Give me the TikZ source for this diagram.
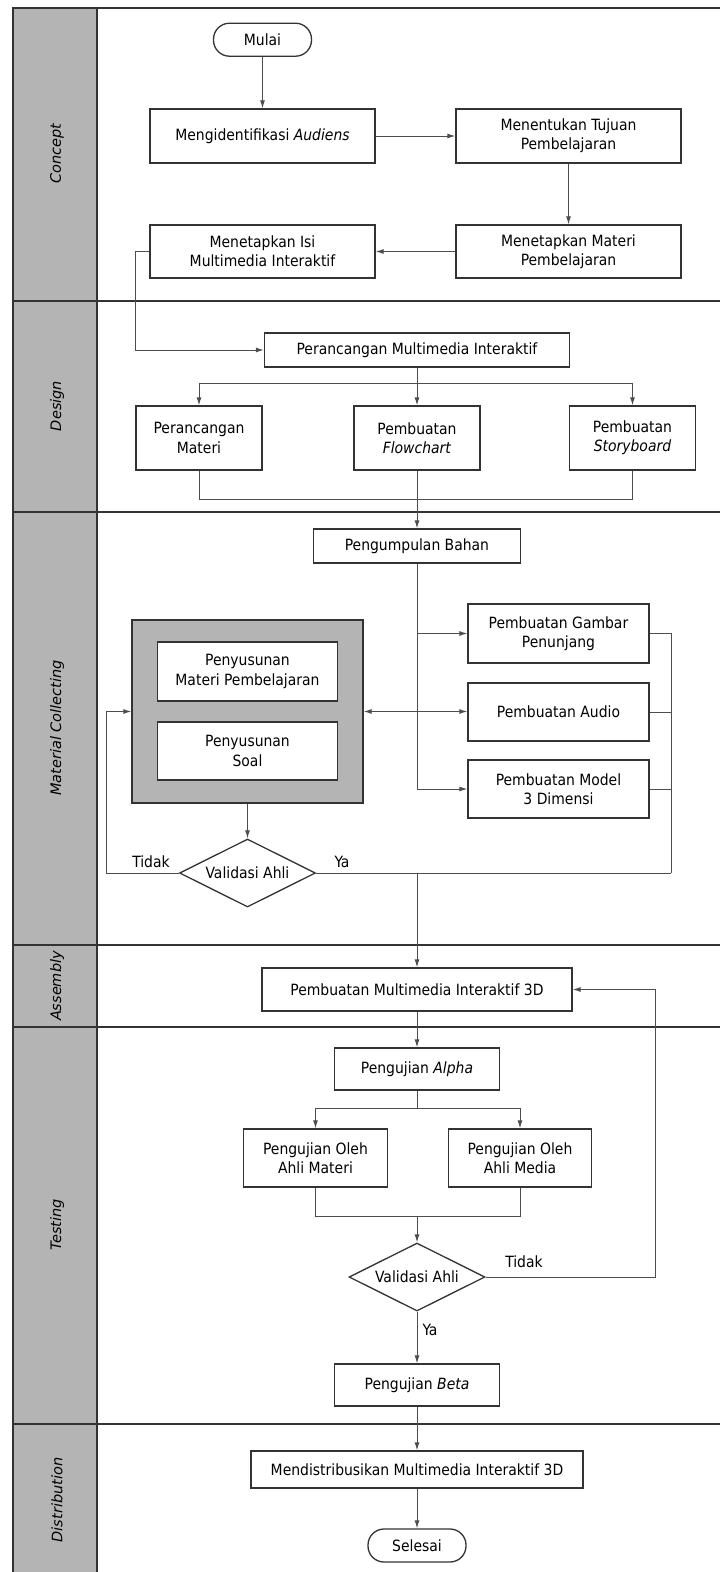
\documentclass[tikz,border=0pt]{standalone}
\usepackage{fontspec}
\setmainfont{DejaVu Sans Condensed}
\newfontfamily\lanefont{DejaVu Sans}
\usetikzlibrary{shapes.geometric,arrows.meta}
\definecolor{lanegray}{HTML}{B4B4B4}
\definecolor{edgegray}{HTML}{333333}
\definecolor{wiregray}{HTML}{4D4D4D}

\begin{document}
\begin{tikzpicture}[x=1pt,y=-1pt,
  every node/.style={font=\fontsize{15.5}{19.3}\selectfont},
  box/.style={draw=edgegray,line width=1.3pt,fill=white,align=center,inner sep=0pt},
  terminal/.style={box,rounded corners=16pt,minimum width=98,minimum height=33},
  decision/.style={box,diamond,aspect=2,minimum width=136,minimum height=68},
  lanelabel/.style={rotate=90,font=\lanefont\itshape\fontsize{14.5}{17}\selectfont},
  laneline/.style={draw=edgegray,line width=2pt},
  wire/.style={draw=wiregray,line width=1pt},
  flow/.style={wire,-{Latex[length=8pt,width=5pt]}},
  twoway/.style={wire,{Latex[length=8pt,width=5pt]}-{Latex[length=8pt,width=5pt]}}]

  \useasboundingbox (0,0) rectangle (720,1572);
  \clip (0,0) rectangle (720,1572);
  \fill[lanegray] (13,7.5) rectangle (96.7,1590);
  \draw[laneline] (13,1590) -- (13,7.5) -- (730,7.5);
  \draw[laneline] (96.7,7.5) -- (96.7,1590);
  \foreach \y in {301,511.7,945,1026.7,1424}
    \draw[laneline] (13,\y) -- (730,\y);

  \node[lanelabel] (concept) at (57,154) {Concept};
  \node[lanelabel] (design) at (57,406) {Design};
  \node[lanelabel] (collecting) at (57,728) {Material Collecting};
  \node[lanelabel] (assembly) at (57,986) {Assembly};
  \node[lanelabel] (testing) at (57,1225) {Testing};
  \node[lanelabel] (distribution) at (57,1500) {Distribution};

  \node[terminal] (mulai) at (262.5,39.7) {Mulai};
  \node[box,minimum width=225,minimum height=54] (audiens) at (262.5,136) {Mengidentifikasi \textit{Audiens}};
  \node[box,minimum width=225,minimum height=54] (tujuan) at (568.5,136) {Menentukan Tujuan\\Pembelajaran};
  \node[box,minimum width=225,minimum height=53] (materi) at (568.5,251.5) {Menetapkan Materi\\Pembelajaran};
  \node[box,minimum width=225,minimum height=53] (isi) at (262.5,251.5) {Menetapkan Isi\\Multimedia Interaktif};

  \node[box,minimum width=305,minimum height=34] (rancang) at (417,350) {Perancangan Multimedia Interaktif};
  \node[box,minimum width=126,minimum height=64] (rmateri) at (199,438) {Perancangan\\Materi};
  \node[box,minimum width=126,minimum height=64] (flowchart) at (417,438) {Pembuatan\\\textit{Flowchart}};
  \node[box,minimum width=126,minimum height=64] (storyboard) at (632.5,438) {Pembuatan\\\textit{Storyboard}};
  \coordinate (desainsplit) at (417,383);

  \node[box,minimum width=207,minimum height=34] (bahan) at (417,546) {Pengumpulan Bahan};
  \node[box,minimum width=181,minimum height=59] (gambar) at (558.5,633.5) {Pembuatan Gambar\\Penunjang};
  \node[box,minimum width=181,minimum height=58] (audio) at (558.5,712) {Pembuatan Audio};
  \node[box,minimum width=181,minimum height=58] (model) at (558.5,789) {Pembuatan Model\\3 Dimensi};
  \node[box,fill=lanegray,minimum width=231,minimum height=183] (kelompok) at (247.5,711.5) {};
  \node[box,minimum width=180,minimum height=59] (susunmateri) at (247.5,671.5) {Penyusunan\\Materi Pembelajaran};
  \node[box,minimum width=180,minimum height=58] (susunsoal) at (247.5,751) {Penyusunan\\Soal};
  \node[decision] (validmateri) at (247.5,873) {Validasi Ahli};
  \node (tidakmateri) at (151,862) {Tidak};
  \node (yamateri) at (342,862) {Ya};
  \coordinate (bus) at (671,873);

  \node[box,minimum width=310,minimum height=43] (buat3d) at (417,989.5) {Pembuatan Multimedia Interaktif 3D};

  \node[box,minimum width=165,minimum height=42] (alpha) at (417,1069) {Pengujian \textit{Alpha}};
  \node[box,minimum width=144,minimum height=58] (ahlimateri) at (315.5,1158) {Pengujian Oleh\\Ahli Materi};
  \node[box,minimum width=143,minimum height=58] (ahlimedia) at (520,1158) {Pengujian Oleh\\Ahli Media};
  \node[decision] (validmedia) at (417,1277) {Validasi Ahli};
  \node (tidakmedia) at (524,1262) {Tidak};
  \node (yamedia) at (430,1330) {Ya};
  \node[box,minimum width=165,minimum height=42] (beta) at (417,1385) {Pengujian \textit{Beta}};
  \coordinate (ujisplit) at (417,1108);
  \coordinate (ujimerge) at (417,1216);
  \coordinate (kembali) at (655,1277);

  \node[box,minimum width=332,minimum height=37] (distribusi) at (417,1469.5) {Mendistribusikan Multimedia Interaktif 3D};
  \node[terminal] (selesai) at (417,1545.5) {Selesai};

  \draw[flow] (mulai) -- (audiens);
  \draw[flow] (audiens) -- (tujuan);
  \draw[flow] (tujuan) -- (materi);
  \draw[flow] (materi) -- (isi);
  \draw[flow] (isi.west) -- ++(-14,0) |- (rancang.west);

  \draw[flow] (rancang) -- (flowchart);
  \draw[flow] (desainsplit) -| (rmateri.north);
  \draw[flow] (desainsplit) -| (storyboard.north);
  \draw[wire] (rmateri.south) -- ++(0,29) -| (storyboard.south);
  \draw[flow] (flowchart) -- (bahan);

  \draw[flow] (bahan.south) |- (model.west);
  \draw[flow] (bahan.south |- gambar.west) -- (gambar.west);
  \draw[twoway] (kelompok.east) -- (kelompok.east -| audio.west);
  \draw[wire] (gambar.east) -| (bus);
  \draw[wire] (audio.east) -- (audio.east -| bus);
  \draw[wire] (model.east) -- (model.east -| bus);
  \draw[wire] (validmateri.east) -- (bus);
  \draw[flow] (kelompok.south) -- (validmateri.north);
  \draw[flow] (validmateri.west) -- ++(-72,0) |- (kelompok.west);
  \draw[flow] (validmateri.east -| bahan.south) -- (buat3d.north);

  \draw[flow] (buat3d) -- (alpha);
  \draw[wire] (alpha) -- (ujisplit);
  \draw[flow] (ujisplit) -| (ahlimateri.north);
  \draw[flow] (ujisplit) -| (ahlimedia.north);
  \draw[wire] (ahlimateri.south) |- (ujimerge) -| (ahlimedia.south);
  \draw[flow] (ujimerge) -- (validmedia.north);
  \draw[flow] (validmedia.east) -- (kembali) |- (buat3d.east);
  \draw[flow] (validmedia) -- (beta);
  \draw[flow] (beta) -- (distribusi);
  \draw[flow] (distribusi) -- (selesai);
\end{tikzpicture}
\end{document}
